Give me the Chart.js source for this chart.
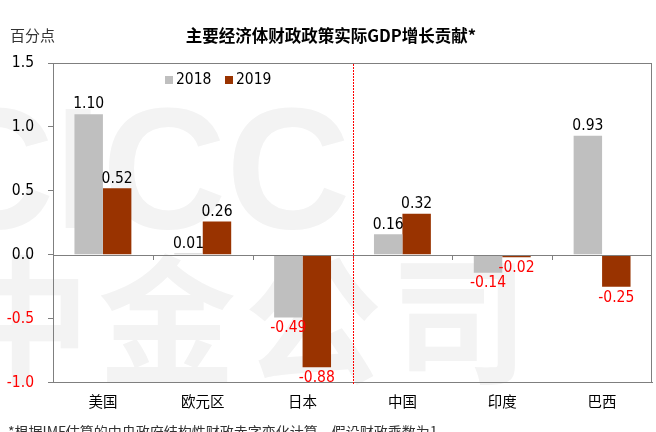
<!DOCTYPE html>
<html>
<head>
<meta charset="utf-8">
<script src="https://cdn.jsdelivr.net/npm/chart.js@4"></script>
<style>
  body { margin: 0; background: #fff; overflow: hidden; }
  .wrap { position: relative; width: 656px; height: 432px; overflow: hidden; }
  #myChart { position: absolute; left: 0; top: 0; }
  .unit { position: absolute; left: 10px; top: 24px; font: 15px "Noto Sans CJK SC"; color: #333; }
  .title { position: absolute; left: 0; width: 662px; top: 23px; text-align: center; font: bold 16.5px "Noto Sans CJK SC"; color: #000; }
  .note { position: absolute; left: 8px; top: 421px; font: 14px "Noto Sans CJK SC"; color: #333; white-space: nowrap; }
</style>
</head>
<body>
<div class="wrap">
  <canvas id="myChart" width="656" height="432"></canvas>
  <div class="unit">百分点</div>
  <div class="title">主要经济体财政政策实际GDP增长贡献*</div>
  <div class="note">*根据IMF估算的中央政府结构性财政赤字变化计算，假设财政乘数为1</div>
</div>
<script>
const labels = ['美国', '欧元区', '日本', '中国', '印度', '巴西'];
const values2018 = [1.10, 0.01, -0.49, 0.16, -0.14, 0.93];
const values2019 = [0.52, 0.26, -0.88, 0.32, -0.02, -0.25];
const yTicks = [-1.0, -0.5, 0.0, 0.5, 1.0, 1.5];

const gray = '#bfbfbf';
const brown = '#993300';
const axisGray = '#7f7f7f';

// faint company watermark, under everything
const watermark = {
    id: 'watermark',
    beforeDraw(chart) {
        const ctx = chart.ctx;
        ctx.save();
        ctx.fillStyle = '#f3f3f3';
        ctx.textBaseline = 'alphabetic';
        ctx.textAlign = 'left';
        ctx.font = 'bold 172px "Liberation Sans"';
        ctx.fillText('CICC', -70, 228);
        ctx.font = 'bold 138px "Noto Sans CJK SC"';
        ctx.letterSpacing = '8px';
        ctx.fillText('中金公司', -48, 372);
        ctx.restore();
    }
};

// value labels on bar ends, red when negative
const barLabels = {
    id: 'barLabels',
    afterDatasetsDraw(chart) {
        const ctx = chart.ctx;
        ctx.save();
        ctx.font = '15.5px "DejaVu Sans Condensed"';
        ctx.textAlign = 'center';
        chart.data.datasets.forEach((ds, i) => {
            chart.getDatasetMeta(i).data.forEach((bar, j) => {
                const v = ds.data[j];
                if (v < 0) {
                    ctx.fillStyle = '#ff0000';
                    ctx.textBaseline = 'top';
                    ctx.fillText(v.toFixed(2), bar.x, bar.y + 3);
                } else {
                    ctx.fillStyle = '#000';
                    ctx.textBaseline = 'bottom';
                    ctx.fillText(v.toFixed(2), bar.x, bar.y - 2);
                }
            });
        });
        ctx.restore();
    }
};

// top/right frame, zero line with ticks, red divider and inner legend
const decor = {
    id: 'decor',
    afterDraw(chart) {
        const ctx = chart.ctx;
        const a = chart.chartArea;
        const x = chart.scales.x;
        const y = chart.scales.y;
        const L = Math.round(a.left);
        const R = Math.round(a.right);
        const T = Math.round(a.top);
        const B = Math.round(a.bottom);
        const y0 = Math.round(y.getPixelForValue(0));
        ctx.save();
        ctx.fillStyle = axisGray;
        ctx.fillRect(L, T, R - L, 1);
        ctx.fillRect(R - 1, T, 1, B - T);
        ctx.fillRect(L, y0, R - L, 1);
        for (let i = 1; i < labels.length; i++) {
            const px = Math.round(x.getPixelForValue(i - 0.5));
            ctx.fillRect(px, y0, 1, 5);
        }

        const dx = Math.round(x.getPixelForValue(2.5));
        ctx.fillStyle = '#ff0000';
        for (let yy = T + 1; yy < B; yy += 3) {
            ctx.fillRect(dx, yy, 1, 2);
        }

        ctx.font = '15.5px "DejaVu Sans Condensed"';
        ctx.textBaseline = 'middle';
        ctx.textAlign = 'left';
        let lx = a.left + 112;
        const ly = a.top + 17;
        chart.data.datasets.forEach((ds) => {
            ctx.fillStyle = ds.backgroundColor;
            ctx.fillRect(lx, ly - 4, 8, 8);
            ctx.fillStyle = '#000';
            ctx.fillText(ds.label, lx + 11, ly);
            lx += 60;
        });
        ctx.restore();
    }
};

const data = {
    labels: labels,
    datasets: [{
        label: '2018',
        backgroundColor: gray,
        data: values2018,
    }, {
        label: '2019',
        backgroundColor: brown,
        data: values2019,
    }]
};

const config = {
    type: 'bar',
    data: data,
    options: {
        responsive: false,
        animation: false,
        layout: { padding: { top: 63, right: 4, bottom: 12, left: 0 } },
        datasets: { bar: { categoryPercentage: 0.57, barPercentage: 1 } },
        plugins: { legend: { display: false }, tooltip: { enabled: false } },
        scales: {
            x: {
                grid: { display: false, drawTicks: false },
                border: { display: true, color: axisGray, width: 1 },
                ticks: { padding: 10, color: '#000', font: { family: 'Noto Sans CJK SC', size: 14.5 } }
            },
            y: {
                min: -1.0,
                max: 1.5,
                afterFit: (s) => { s.width = 53; },
                afterBuildTicks: (s) => { s.ticks = yTicks.map((v) => ({ value: v })); },
                grid: { display: true, drawOnChartArea: false, tickLength: 5, color: axisGray },
                border: { display: true, color: axisGray, width: 1 },
                ticks: {
                    padding: 14,
                    font: { family: 'DejaVu Sans Condensed', size: 15.5 },
                    color: (c) => c.tick.value < 0 ? '#ff0000' : '#000',
                    callback: (v) => Number(v).toFixed(1)
                }
            }
        }
    },
    plugins: [watermark, barLabels, decor]
};

const myChart = new Chart(document.getElementById('myChart'), config);
</script>
</body>
</html>
